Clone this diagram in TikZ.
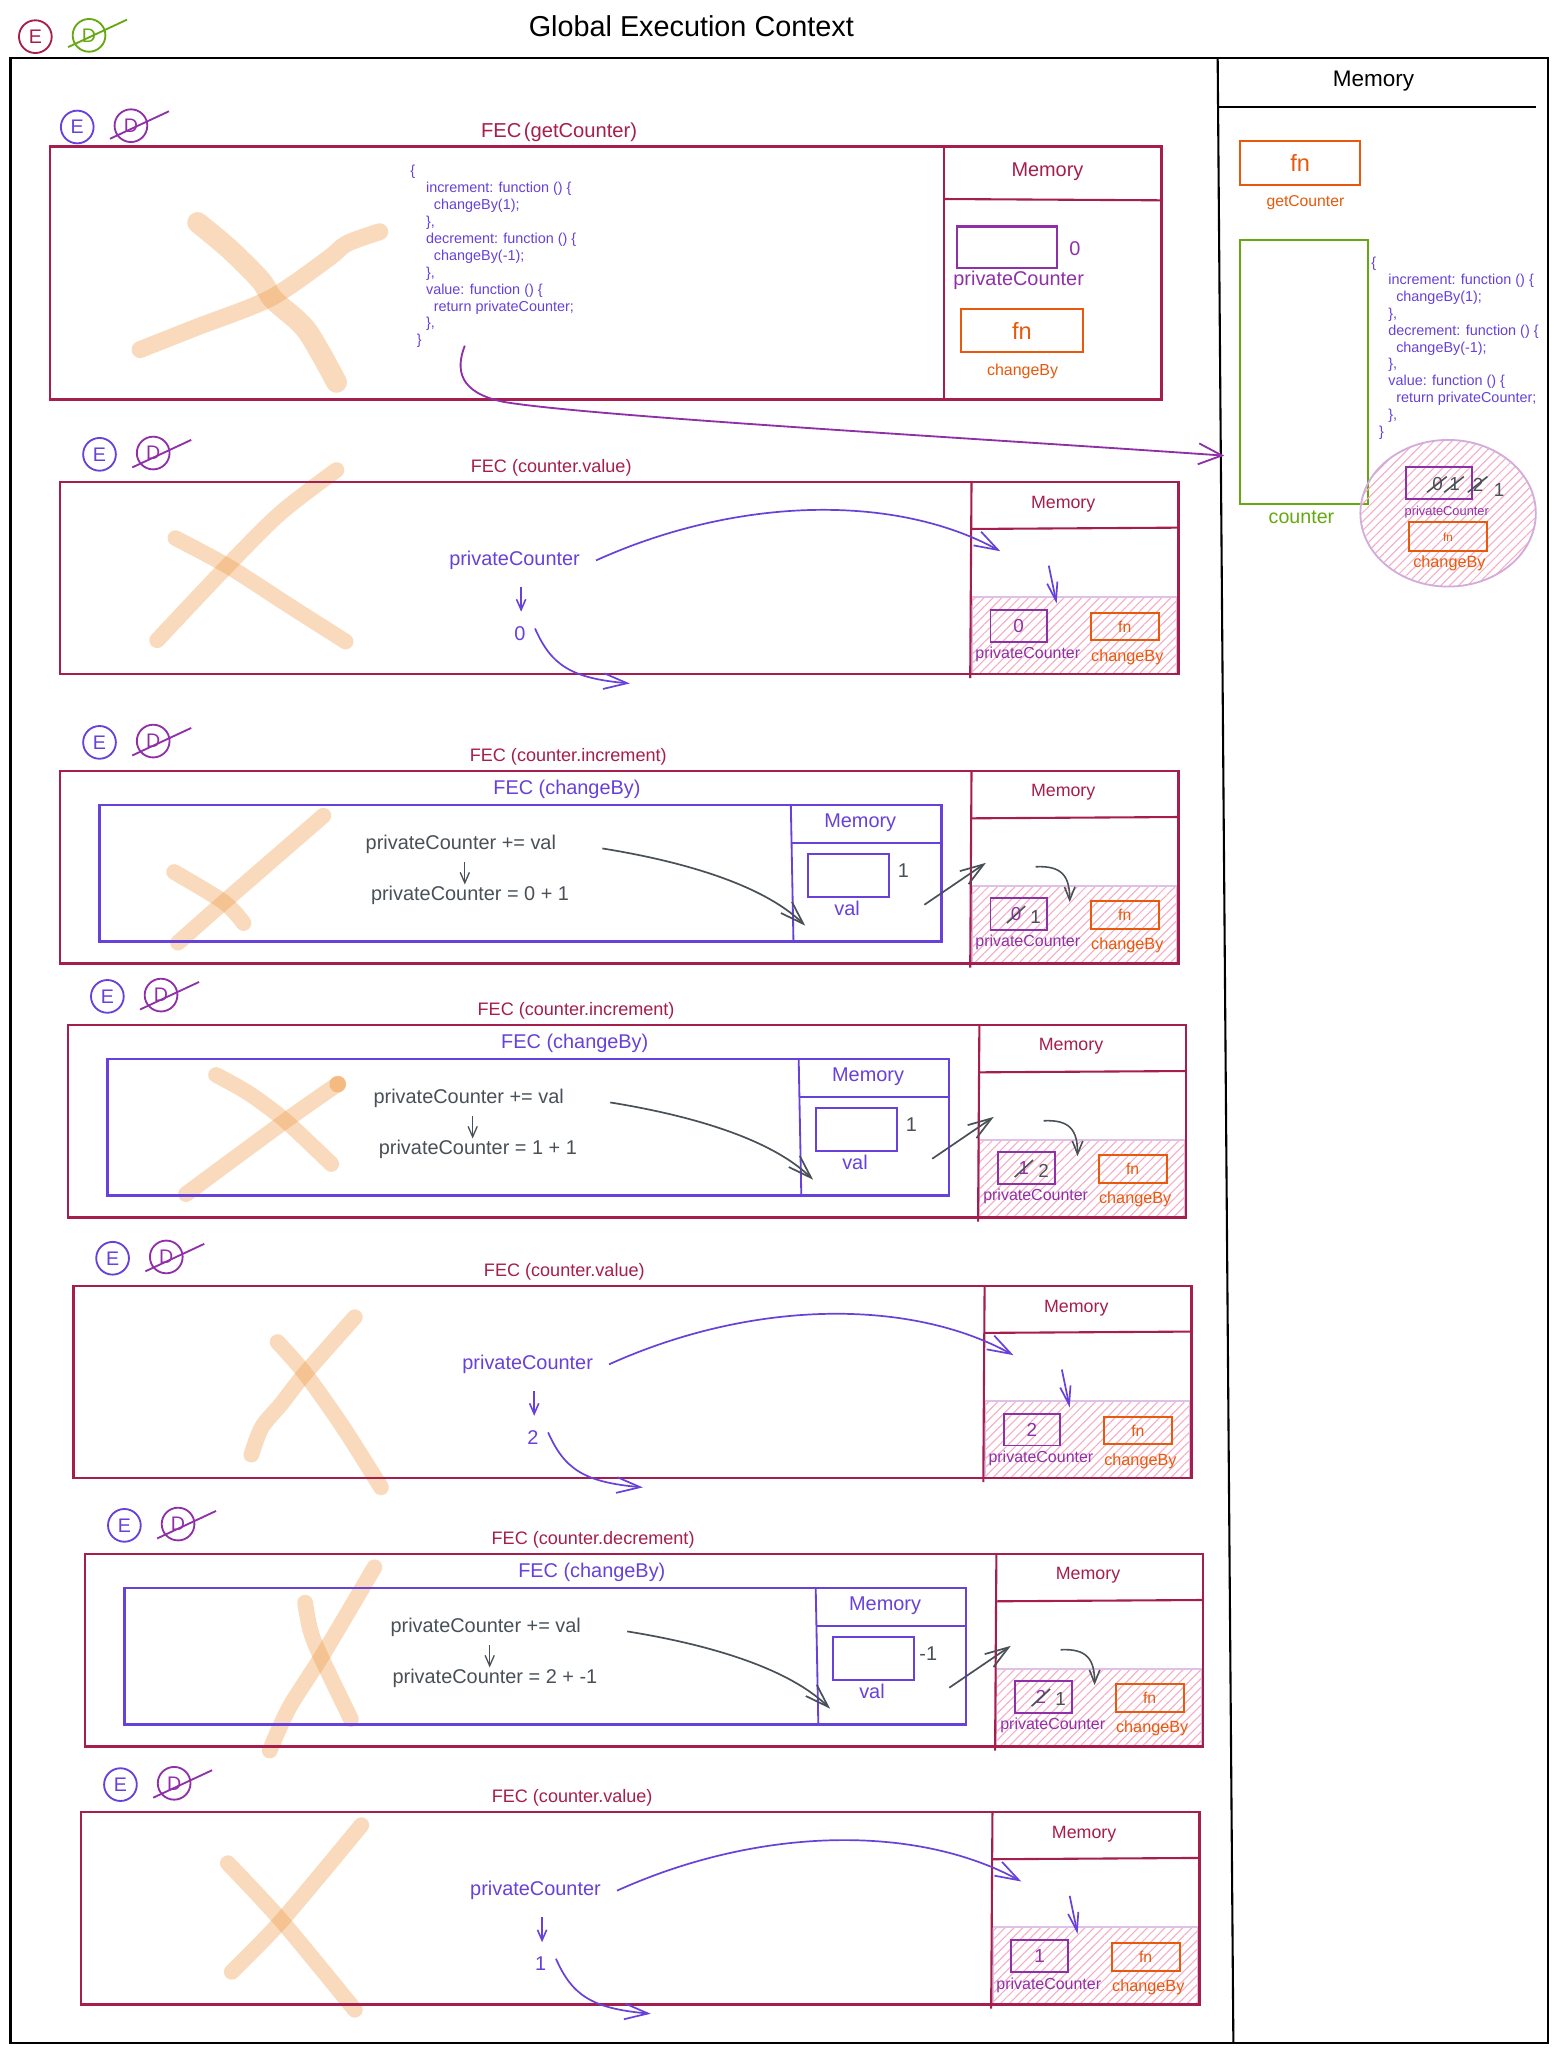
\documentclass[tikz,border=0pt]{standalone}
\usepackage{fontspec}
\setmainfont{Liberation Sans}
\usetikzlibrary{arrows.meta,patterns.meta,calc}
\definecolor{crim}{HTML}{A61E4D}
\definecolor{vio}{HTML}{6741D9}
\definecolor{grp}{HTML}{9030A8}
\definecolor{org}{HTML}{E8590C}
\definecolor{grn}{HTML}{66A80F}
\definecolor{gry}{HTML}{495057}
\definecolor{pnk}{HTML}{F06595}
\definecolor{peach}{HTML}{F0A050}
\tikzset{
 every node/.style={inner sep=0.5pt},
 seclabel/.style={text=crim, font=\fontsize{6.9}{8}\selectfont},
 memlab/.style={text=crim, font=\fontsize{6.8}{8}\selectfont},
 pclab/.style={text=grp, font=\fontsize{6.1}{7}\selectfont},
 cblab/.style={text=org, font=\fontsize{6.2}{7}\selectfont},
 vtext/.style={text=vio, font=\fontsize{7.6}{9}\selectfont},
 gtext/.style={text=gry, font=\fontsize{7.6}{9}\selectfont},
 gnum/.style={text=gry, font=\fontsize{7.2}{8}\selectfont},
 pcnum/.style={text=grp, font=\fontsize{7.2}{8}\selectfont},
 pcbox/.style={draw=grp, line width=0.75pt, minimum width=21.5pt, minimum height=12pt, inner sep=0pt, text=grp, font=\fontsize{7.2}{8}\selectfont},
 fnbox/.style={draw=org, line width=0.75pt, minimum width=26pt, minimum height=10.5pt, inner sep=0pt, text=org, font=\fontsize{6}{7}\selectfont},
 valbox/.style={draw=vio, line width=0.8pt, minimum width=31pt, minimum height=16.5pt, inner sep=0pt},
 fecbox/.style={draw=crim, line width=0.9pt},
 fecline/.style={draw=crim, line width=0.8pt},
 cbbox/.style={draw=vio, line width=0.9pt},
 cbline/.style={draw=vio, line width=0.7pt},
 hatch/.style={pattern={Lines[angle=45,distance=2.4pt,line width=0.4pt]}, pattern color=pnk!55},
 hatchb/.style={draw=grp!30, line width=0.8pt},
 xs/.style={draw=peach, draw opacity=0.38, line width=6pt, line cap=round, line join=round},
 ecirc/.style={circle, draw=vio, text=vio, line width=0.7pt, minimum size=12.5pt, inner sep=0pt, font=\fontsize{7.5}{9}\selectfont},
 dcirc/.style={circle, draw=grp, text=grp, line width=0.7pt, minimum size=12.5pt, inner sep=0pt, font=\fontsize{7.5}{9}\selectfont},
 dstrike/.style={draw=grp, line width=0.7pt},
 vbig/.style={draw=vio, line width=0.65pt, -{Straight Barb[length=9pt,width=6pt]}},
 vsmall/.style={draw=vio, line width=0.6pt, -{Straight Barb[length=4pt,width=3.5pt]}},
 vmid/.style={draw=vio, line width=0.65pt, -{Straight Barb[length=7pt,width=4pt]}},
 gbig/.style={draw=gry, line width=0.65pt, -{Straight Barb[length=9pt,width=6pt]}},
 gsmall/.style={draw=gry, line width=0.5pt, -{Straight Barb[length=4pt,width=3.5pt]}},
 gmid/.style={draw=gry, line width=0.6pt, -{Straight Barb[length=5pt,width=4pt]}},
 strk/.style={draw=gry, line width=0.6pt},
 code/.style={text=vio, font=\fontsize{5.5}{6.45}\selectfont, align=left, anchor=north west, inner sep=0pt},
 frame/.style={draw=black, line width=0.8pt}
}
\newcommand\valsec[4]{%
\begin{scope}[shift={(#2,#3)}]
\node[ecirc] (#1E) at (30,-21) {E};
\node[dcirc] (#1D) at (71,-22) {D};
\draw[dstrike] (55,-11) -- (100,-32);
\node[seclabel] (#1L) at (375,-11) {FEC (counter.value)};
\path[hatch] (696,88) rectangle (853,147);
\draw[hatchb] (696,88) rectangle (853,147);
\draw[fecbox] (0,0) rectangle (854,147);
\draw[fecline] (696,0) -- (695,150);
\draw[fecline] (696,36) -- (854,35);
\node[memlab] (#1M) at (766,17) {Memory};
\node[pcbox] (#1B) at (732,110) {#4};
\node[pclab] (#1BL) at (739,132) {privateCounter};
\node[fnbox] (#1F) at (813,110.5) {fn};
\node[cblab] (#1FL) at (815,134) {changeBy};
\node[vtext] (#1pc) at (347,60) {privateCounter};
\node[vtext] (#1v) at (351,116) {#4};
\coordinate (#1t) at (718,53);
\coordinate (#1d) at (755,64);
\coordinate (#1dt) at (761,93);
\coordinate (#1o) at (435,154);
\draw[vsmall] ([xshift=2.5pt,yshift=-6pt]#1pc.south) -- ([xshift=0.5pt,yshift=5pt]#1v.north);
\draw[vbig] ([xshift=5.5pt]#1pc.east) .. controls (520,10) and (640,10) .. (#1t);
\draw[vmid] (#1d) -- (#1dt);
\draw[vbig] ([xshift=3pt,yshift=2pt]#1v.east) .. controls (375,140) and (390,150) .. (#1o);
\end{scope}}
\newcommand\incsec[8]{%
\begin{scope}[shift={(#2,#3)}]
\node[ecirc] (#1E) at (30,-22) {E};
\node[dcirc] (#1D) at (71,-23) {D};
\draw[dstrike] (55,-12) -- (100,-33);
\node[seclabel] (#1L) at (388,-11) {FEC (#4)};
\path[hatch] (696,88) rectangle (853,147);
\draw[hatchb] (696,88) rectangle (853,147);
\draw[fecbox] (0,0) rectangle (854,147);
\draw[fecline] (696,0) -- (695,150);
\draw[fecline] (696,36) -- (854,35);
\node[memlab] (#1M) at (766,16) {Memory};
\node[pcbox] (#1B) at (732,109) {};
\node[pcnum] (#1o) at (730,109) {#5};
\draw[strk] (723,116) -- (737,103);
\node[gnum] (#1n) at (745,111) {#6};
\node[pclab] (#1BL) at (739,131) {privateCounter};
\node[fnbox] (#1F) at (813,110) {fn};
\node[cblab] (#1FL) at (815,133) {changeBy};
\node[vtext] (#1IL) at (387,14) {FEC (changeBy)};
\draw[cbbox] (30,26) rectangle (673,130);
\draw[cbline] (558,26) -- (560,130);
\draw[cbline] (558,55) -- (673,55);
\node[vtext] (#1IM) at (611,39) {Memory};
\node[valbox] (#1V) at (602,79.5) {};
\node[gtext] (#1Vv) at (644,76) {#7};
\node[vtext] (#1VL) at (601,105) {val};
\node[gtext] (#1e1) at (306,56) {privateCounter += val};
\node[gtext] (#1e2) at (313,95) {privateCounter = #8};
\coordinate (#1t1) at (569,118);
\coordinate (#1s2) at (660,102);
\coordinate (#1t2) at (707,70);
\coordinate (#1s3) at (745,73);
\coordinate (#1t3) at (771,100);
\draw[gsmall] ([xshift=1.5pt,yshift=-2.5pt]#1e1.south) -- ([xshift=-2pt]#1e2.north);
\draw[gbig] ([xshift=17pt,yshift=-1.5pt]#1e1.east) .. controls (470,68) and (535,85) .. (#1t1);
\draw[gbig] (#1s2) -- (#1t2);
\draw[gmid] (#1s3) .. controls (765,72) and (771,80) .. (#1t3);
\end{scope}}
\begin{document}
\begin{tikzpicture}[x=0.5pt,y=-0.5pt]
\useasboundingbox (0,0) rectangle (1190,1568);
\fill[white] (0,0) rectangle (1190,1568);
% orange crosses (drawn first, behind)
\draw[xs, line width=8pt] plot[smooth] coordinates {(151,170) (175,190) (199,214) (209,229) (234,252) (257,292)};
\draw[xs, line width=6.5pt] plot[smooth] coordinates {(107,267) (150,250) (206,228) (250,198) (265,186) (290,177)};
\draw[xs] plot[smooth] coordinates {(134,411) (175,433) (220,462) (264,490)};
\draw[xs] plot[smooth] coordinates {(120,489) (171,435) (214,392) (257,359)};
\draw[xs] plot[smooth] coordinates {(133,666) (171,689) (186,705)};
\draw[xs] plot[smooth] coordinates {(136,720) (171,689) (247,623)};
\draw[xs] plot[smooth] coordinates {(165,821) (190,835) (218,856) (253,889)};
\draw[xs] plot[smooth] coordinates {(142,912) (218,856) (258,828)};
\fill[peach, opacity=0.55] (258,828) circle[radius=3.2pt];
\draw[xs] plot[smooth] coordinates {(212,1025) (233,1049) (262,1090) (291,1136)};
\draw[xs] plot[smooth] coordinates {(192,1111) (200,1090) (215,1072) (233,1049) (271,1006)};
\draw[xs] plot[smooth] coordinates {(233,1224) (237,1245) (244,1263) (268,1313)};
\draw[xs] plot[smooth] coordinates {(286,1197) (247,1263) (221,1304) (206,1337)};
\draw[xs] plot[smooth] coordinates {(174,1423) (215,1467) (271,1535)};
\draw[xs] plot[smooth] coordinates {(177,1506) (215,1467) (276,1394)};
% global frame
\node[ecirc, draw=crim, text=crim] (topE) at (27,28) {E};
\node[dcirc, draw=grn, text=grn] (topD) at (68,27) {D};
\draw[draw=grn, line width=0.7pt] (52,36) -- (97,15);
\node[font=\fontsize{11}{13}\selectfont] (title) at (528,20) {Global Execution Context};
\draw[frame] (8,44) rectangle (1182,1560);
\draw[frame] (930,44) -- (942,1560);
\node[font=\fontsize{8.6}{10}\selectfont] (gmem) at (1049,62) {Memory};
\draw[frame] (930,82) -- (1173,82);
% right memory
\node[draw=org, line width=0.8pt, minimum width=46pt, minimum height=16.5pt, inner sep=0pt, text=org, font=\fontsize{9}{10}\selectfont] (rfn) at (993,124.5) {fn};
\node[text=org, font=\fontsize{6}{7}\selectfont] (rfnl) at (997,155) {getCounter};
\node[draw=grn, line width=0.8pt, minimum width=49pt, minimum height=101pt, inner sep=0pt] (rctr) at (996,284) {};
\node[text=grn, font=\fontsize{7.5}{9}\selectfont] (rctrl) at (994,395) {counter};
\node[code] (rcode) at (1047,196) {\{\\\hspace*{6.5pt}increment: function () \{\\\hspace*{9.5pt}changeBy(1);\\\hspace*{6.5pt}\},\\\hspace*{6.5pt}decrement: function () \{\\\hspace*{9.5pt}changeBy(-1);\\\hspace*{6.5pt}\},\\\hspace*{6.5pt}value: function () \{\\\hspace*{9.5pt}return privateCounter;\\\hspace*{6.5pt}\},\\\hspace*{3pt}\}};
\path[hatch] (1106,392) ellipse [x radius=33.5pt, y radius=28pt];
\draw[draw=grp!40, line width=0.7pt] (1106,392) ellipse [x radius=33.5pt, y radius=28pt];
\node[draw=grp, line width=0.75pt, minimum width=25pt, minimum height=12pt, inner sep=0pt] (rpc) at (1099,369) {};
\node[gnum] (rd0) at (1098,370) {0};
\node[gnum] (rd1) at (1111,370) {1};
\node[gnum] (rd2) at (1129,370) {2};
\draw[strk] (1090,376) -- (1105,364);
\draw[strk] (1103,376) -- (1118,364);
\draw[strk] (1121,376) -- (1136,364);
\node[gnum] (rd3) at (1145,374) {1};
\node[text=grp, font=\fontsize{4.9}{6}\selectfont] (rpcl) at (1105,391) {privateCounter};
\node[draw=org, line width=0.75pt, minimum width=30pt, minimum height=11pt, inner sep=0pt, text=org, font=\fontsize{4.5}{5}\selectfont] (rfn2) at (1106,410) {fn};
\node[cblab] (rfn2l) at (1107,430) {changeBy};
% FEC getCounter
\node[ecirc] (gE) at (59,97) {E};
\node[dcirc] (gD) at (100,96) {D};
\draw[dstrike] (84,106) -- (129,85);
\node[text=crim, font=\fontsize{7.7}{9}\selectfont] (gL) at (427,101) {FEC\hspace{1pt}(getCounter)};
\draw[fecbox] (38,112) rectangle (887,305);
\draw[fecline] (721,112) -- (721,305);
\draw[fecline] (721,152) -- (887,153);
\node[text=crim, font=\fontsize{7.6}{9}\selectfont] (gM) at (800,131) {Memory};
\node[draw=grp, line width=0.8pt, minimum width=38pt, minimum height=16pt, inner sep=0pt] (gpc) at (769,189) {};
\node[text=grp, font=\fontsize{7.6}{9}\selectfont] (gpc0) at (821,190) {0};
\node[text=grp, font=\fontsize{7.6}{9}\selectfont] (gpcl) at (778,214) {privateCounter};
\node[draw=org, line width=0.8pt, minimum width=46.5pt, minimum height=16.5pt, inner sep=0pt, text=org, font=\fontsize{9}{10}\selectfont] (gfn) at (780.5,252.5) {fn};
\node[text=org, font=\fontsize{6.1}{7}\selectfont] (gfnl) at (781,284) {changeBy};
\node[code] (gcode) at (313,126) {\{\\\hspace*{6pt}increment: function () \{\\\hspace*{9pt}changeBy(1);\\\hspace*{6pt}\},\\\hspace*{6pt}decrement: function () \{\\\hspace*{9pt}changeBy(-1);\\\hspace*{6pt}\},\\\hspace*{6pt}value: function () \{\\\hspace*{9pt}return privateCounter;\\\hspace*{6pt}\},\\\hspace*{2.5pt}\}};
\coordinate (gstart) at (355,264);
\coordinate (gtip) at (935,348);
\draw[draw=grp, line width=0.7pt, -{Straight Barb[length=9pt,width=8pt]}] (gstart) .. controls (348,282) and (350,300) .. (385,307) .. controls (450,318) and (750,335) .. (gtip);
% sections
\valsec{sa}{46}{368}{0}
\incsec{sb}{46}{589}{counter.increment}{0}{1}{1}{0 + 1}
\incsec{sc}{52}{783}{counter.increment}{1}{2}{1}{1 + 1}
\valsec{sd}{56}{982}{2}
\incsec{se}{65}{1187}{counter.decrement}{2}{1}{-1}{2 + -1}
\valsec{sf}{62}{1384}{1}
\end{tikzpicture}
\end{document}
